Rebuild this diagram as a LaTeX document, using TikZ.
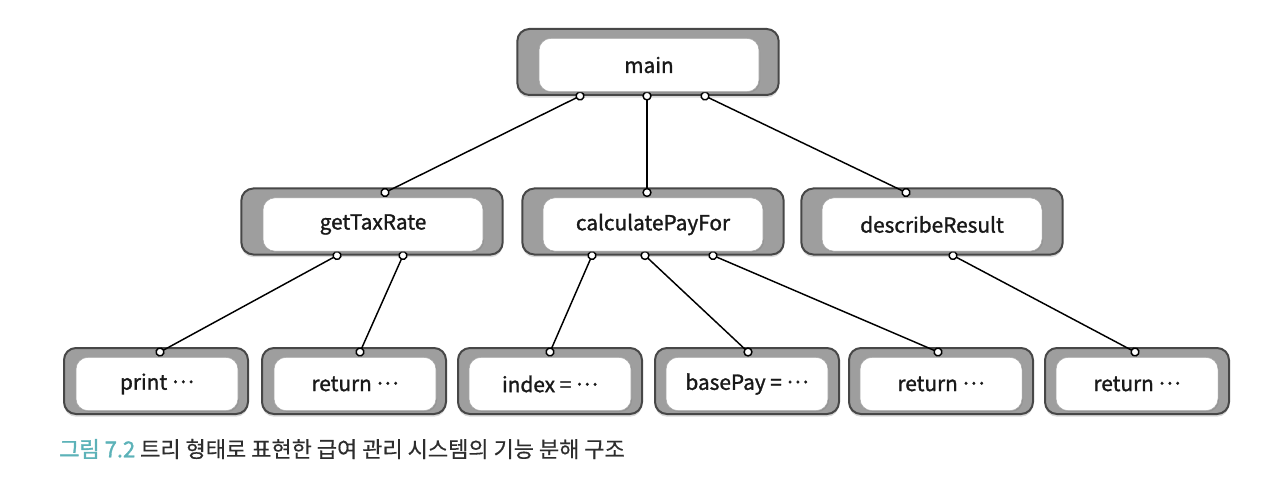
\documentclass[tikz,border=0pt]{standalone}
\usepackage{fontspec}
\setmainfont{Noto Sans CJK KR}
\newfontfamily\boxfont{Noto Sans CJK KR}[FakeBold=1.3]
\newfontfamily\capfont{Noto Sans CJK KR}[FakeBold=0.4]
\newfontfamily\capheadfont{Noto Sans CJK KR}[FakeBold=1.4]
\newcommand{\dotsmid}{\raisebox{0.32em}{…}}
\usetikzlibrary{arrows.meta,calc,shadows}
\definecolor{captionteal}{RGB}{92,178,184}
\definecolor{captiongray}{RGB}{45,45,45}

\begin{document}
\begin{tikzpicture}[
      x=0.75pt, y=-0.75pt,
      outerbox/.style={
          draw=black!72,
          line width=1.5pt,
          fill=black!38,
          rounded corners=9pt,
          minimum height=49.5pt,
          drop shadow={opacity=0.3, shadow xshift=0pt, shadow yshift=-2pt}
        },
      innerbox/.style={
          draw=black!35,
          line width=0.4pt,
          fill=white,
          rounded corners=9pt,
          inner sep=0pt,
          minimum height=40pt,
          text=black!90,
          font=\boxfont\fontsize{15.6}{18}\selectfont,
          drop shadow={opacity=0.35, shadow xshift=0.8pt, shadow yshift=-1pt}
        },
      wide/.style={minimum width=196pt},
      innerwide/.style={minimum width=165pt},
      leaf/.style={minimum width=138pt},
      innerleaf/.style={minimum width=121.5pt},
      link/.style={
          line width=1.1pt,
          {Circle[open,fill=white,length=7pt]}-{Circle[open,fill=white,length=7pt]},
          shorten <=-3.5pt, shorten >=-3.5pt
        }
    ]
    \useasboundingbox (0,0) rectangle (1280,477);

    \node[outerbox, wide] (main) at (648,62) {};
    \node[outerbox, wide] (taxrate) at (372,221.5) {};
    \node[outerbox, wide] (calcpay) at (653,221.5) {};
    \node[outerbox, wide] (describe) at (932,221.5) {};
    \node[outerbox, leaf] (print) at (156,381) {};
    \node[outerbox, leaf] (rettax) at (354,381) {};
    \node[outerbox, leaf] (index) at (550,381) {};
    \node[outerbox, leaf] (basepay) at (747,381) {};
    \node[outerbox, leaf] (retpay) at (941,381) {};
    \node[outerbox, leaf] (retdesc) at (1137,381) {};

    \draw[link] ($(main.south)+(-68,0)$) -- ($(taxrate.north)+(13,5)$);
    \draw[link] ($(main.south)+(-1,0)$) -- ($(calcpay.north)+(-6,5)$);
    \draw[link] ($(main.south)+(57,0)$) -- ($(describe.north)+(-26,5)$);
    \draw[link] ($(taxrate.south)+(-35,0)$) -- ($(print.north)+(4,5)$);
    \draw[link] ($(taxrate.south)+(31,0)$) -- ($(rettax.north)+(6,5)$);
    \draw[link] ($(calcpay.south)+(-61,0)$) -- ($(index.north)+(0,5)$);
    \draw[link] ($(calcpay.south)+(-8,0)$) -- ($(basepay.north)+(1,5)$);
    \draw[link] ($(calcpay.south)+(60,0)$) -- ($(retpay.north)+(-3,5)$);
    \draw[link] ($(describe.south)+(21,0)$) -- ($(retdesc.north)+(-2,5)$);

    \node[innerbox, innerwide] (mainin) at ($(main)+(1,3)$) {main};
    \node[innerbox, innerwide] (taxratein) at ($(taxrate)+(1,3)$) {getTaxRate};
    \node[innerbox, innerwide] (calcpayin) at ($(calcpay)+(0,3)$) {calculatePayFor};
    \node[innerbox, innerwide] (describein) at ($(describe)+(0,3)$) {describeResult};
    \node[innerbox, innerleaf] (printin) at ($(print)+(1,3)$) {print \dotsmid};
    \node[innerbox, innerleaf] (rettaxin) at ($(rettax)+(1,3)$) {return \dotsmid};
    \node[innerbox, innerleaf] (indexin) at ($(index)+(0,3)$) {index = \dotsmid};
    \node[innerbox, innerleaf] (basepayin) at ($(basepay)+(0,3)$) {basePay = \dotsmid};
    \node[innerbox, innerleaf] (retpayin) at ($(retpay)+(0,3)$) {return \dotsmid};
    \node[innerbox, innerleaf] (retdescin) at ($(retdesc)+(0,3)$) {return \dotsmid};

    \node[anchor=west, inner sep=0pt, text=captiongray, font=\capfont\fontsize{16.5}{19}\selectfont] (caption) at (59,449)
      {{\capheadfont\color{captionteal}그림 7.2} 트리 형태로 표현한 급여 관리 시스템의 기능 분해 구조};
  \end{tikzpicture}
\end{document}
